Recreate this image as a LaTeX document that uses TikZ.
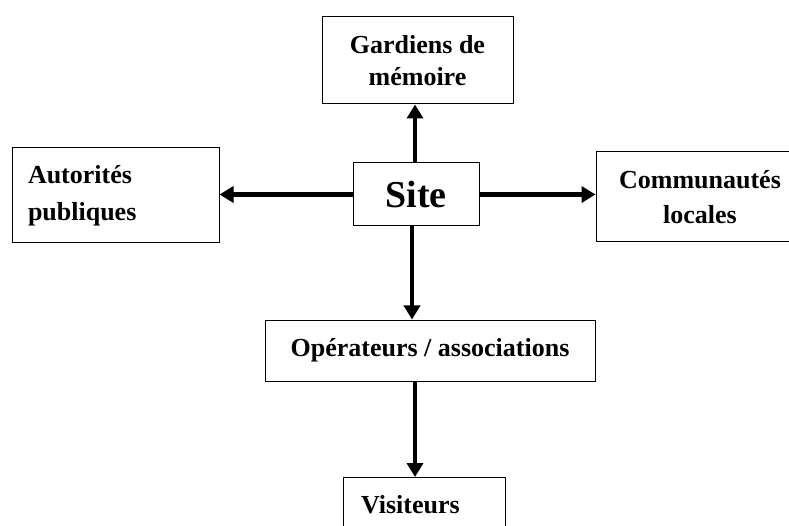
\documentclass[tikz,border=0pt]{standalone}
\usepackage{fontspec}
\setmainfont{Liberation Serif}
\usetikzlibrary{arrows.meta}
\tikzset{
  box/.style={draw, line width=1pt, rectangle, inner sep=0pt, font=\bfseries\fontsize{26}{32}\selectfont},
  arr/.style={line width=4.5pt, -{Triangle[length=14pt,width=16pt]}}
}
\begin{document}
\begin{tikzpicture}[x=1pt,y=-1pt]
\useasboundingbox (0,0) rectangle (789,526);
\node[box, minimum width=126pt, minimum height=63pt, font=\bfseries\fontsize{38}{44}\selectfont] (site) at (416,194.5) {Site};
\node[box, minimum width=191pt, minimum height=87pt, align=center] (gard) at (417.5,60.5) {Gardiens de\\mémoire};
\node[box, minimum width=207pt, minimum height=95pt, text width=175pt, inner xsep=16pt, align=left, font=\bfseries\fontsize{26}{37}\selectfont] (aut) at (115.5,195.5) {Autorités\\publiques};
\node[box, minimum width=208pt, minimum height=90pt, align=center, font=\bfseries\fontsize{26}{35}\selectfont] (com) at (700,197) {Communautés\\locales};
\node[box, minimum width=330pt, minimum height=61pt] (oper) at (430,350.5) {Opérateurs / associations};
\node[box, anchor=north, minimum width=162pt, minimum height=54pt, text width=126pt, inner xsep=18pt, align=left] (vis) at (424,477) {Visiteurs};
\draw[arr] (site.north -| 415,0) -- (gard.south -| 415,0);
\draw[arr] (site.south -| 412,0) -- (oper.north -| 412,0);
\draw[arr] (site.west) -- (site.west -| aut.east);
\draw[arr] (site.east) -- (site.east -| com.west);
\draw[arr] (oper.south -| 415,0) -- (vis.north -| 415,0);
\end{tikzpicture}
\end{document}
